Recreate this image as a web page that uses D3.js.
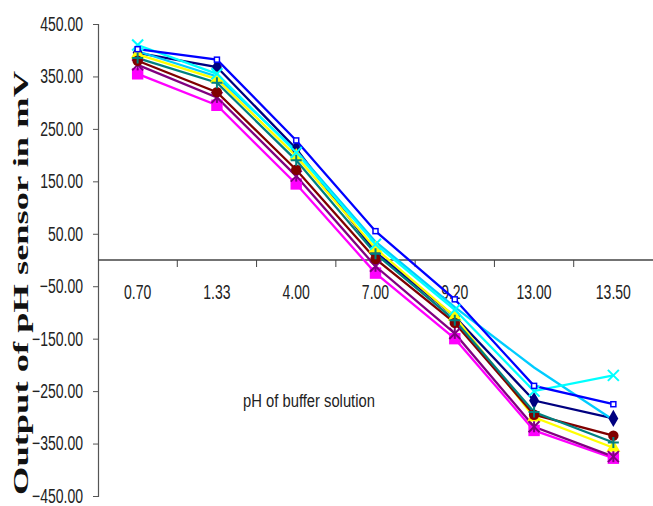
<!DOCTYPE html>
<html>
<head>
<meta charset="utf-8">
<script src="https://cdn.jsdelivr.net/npm/d3@7"></script>
<style>
  html, body { margin: 0; padding: 0; background: #fff; }
  svg { display: block; }
</style>
</head>
<body>
<div id="chart"></div>
<script>
// pH of buffer solution (categories)
const phLevels = ["0.70", "1.33", "4.00", "7.00", "9.20", "13.00", "13.50"];
const yTicks = [450, 350, 250, 150, 50, -50, -150, -250, -350, -450];

// sensor output in mV, one array per sensor
const navyVals    = [395, 368, 212, 15, -108, -268, -302];
const magentaVals = [355, 295, 145, -25, -150, -325, -378];
const yellowVals  = [392, 345, 198, 22, -108, -300, -358];
const cyanVals    = [410, 355, 205, 30, -95, -250, -220];
const purpleVals  = [372, 310, 160, -12, -140, -318, -375];
const maroonVals  = [380, 320, 172, 2, -120, -295, -335];
const tealVals    = [385, 338, 190, 12, -115, -290, -348];
const blueVals    = [402, 382, 228, 55, -75, -240, -275];
const skyVals     = [398, 350, 208, 35, -90, -205, -305];

const series = [
  { vals: navyVals, color: "#000080", sym: "diamond" },
  { vals: magentaVals, color: "#ff00ff", sym: "square" },
  { vals: yellowVals, color: "#ffff00", sym: "triangle" },
  { vals: skyVals, color: "#00ccff", sym: "none" },
  { vals: purpleVals, color: "#800080", sym: "star" },
  { vals: maroonVals, color: "#800000", sym: "circle" },
  { vals: tealVals, color: "#008080", sym: "plus" },
  { vals: cyanVals, color: "#00ffff", sym: "x" },
  { vals: blueVals, color: "#0000ff", sym: "box" },
];

const width = 653, height = 506;
const margin = { left: 98, right: 653, top: 24, bottom: 496 };

const svg = d3.select("#chart").append("svg")
  .attr("width", width).attr("height", height)
  .style("font-family", "'Liberation Sans', Arial, sans-serif");

const x = d3.scalePoint().domain(phLevels).range([margin.left, margin.right]).padding(0.5);
const xBand = d3.scaleBand().domain(phLevels).range([margin.left, margin.right]);
const y = d3.scaleLinear().domain([-450, 450]).range([margin.bottom, margin.top]);

// squeeze labels horizontally like the original
function condense(sel, k) {
  sel.each(function () {
    const w = this.getComputedTextLength();
    d3.select(this).attr("textLength", w * k).attr("lengthAdjust", "spacingAndGlyphs");
  });
}

// y axis
const yAxis = svg.append("g").attr("transform", `translate(${margin.left},0)`)
  .call(d3.axisLeft(y).tickValues(yTicks).tickFormat(d3.format(".2f")).tickSize(5).tickPadding(10));
yAxis.select(".domain").attr("stroke", "#555").attr("stroke-width", 1.2);
yAxis.selectAll(".tick line").attr("stroke", "#555");
yAxis.selectAll(".tick text")
  .attr("fill", "#222").style("font-size", "20px")
  .style("font-family", "'Liberation Sans', Arial, sans-serif")
  .call(condense, 0.7);

// x axis along zero
const xg = svg.append("g");
xg.append("line")
  .attr("x1", margin.left).attr("x2", margin.right)
  .attr("y1", y(0)).attr("y2", y(0))
  .attr("stroke", "#444").attr("stroke-width", 1.5);
xg.selectAll(".xtick").data(phLevels.slice(1)).join("line")
  .attr("x1", d => xBand(d)).attr("x2", d => xBand(d))
  .attr("y1", y(0)).attr("y2", y(0) + 7)
  .attr("stroke", "#444");
xg.selectAll(".xlab").data(phLevels).join("text")
  .attr("x", d => x(d)).attr("y", y(0) + 39)
  .attr("text-anchor", "middle")
  .attr("fill", "#222").style("font-size", "20px")
  .text(d => d)
  .call(condense, 0.7);

// axis titles
svg.append("text")
  .attr("x", 309).attr("y", 407)
  .attr("text-anchor", "middle")
  .attr("fill", "#222").style("font-size", "18px")
  .text("pH of buffer solution")
  .call(condense, 0.82);

svg.append("text")
  .attr("transform", "translate(28,283) rotate(-90)")
  .attr("text-anchor", "middle")
  .attr("fill", "#111")
  .style("font-family", "'Liberation Serif', 'Times New Roman', serif")
  .style("font-weight", "bold").style("font-size", "22px")
  .attr("textLength", 424).attr("lengthAdjust", "spacingAndGlyphs")
  .text("Output of pH sensor in mV");

// lines
const line = d3.line().x((d, i) => x(phLevels[i])).y(d => y(d));
const plot = svg.append("g");

series.forEach(s => {
  plot.append("path")
    .datum(s.vals)
    .attr("d", line)
    .attr("fill", "none")
    .attr("stroke", s.color)
    .attr("stroke-width", 2.3);
});

const symTypes = {
  diamond: d3.symbolDiamond,
  square: d3.symbolSquare,
  triangle: d3.symbolTriangle,
  circle: d3.symbolCircle,
};

series.forEach(s => {
  const g = plot.append("g");
  const pts = g.selectAll("g").data(s.vals).join("g")
    .attr("transform", (d, i) => `translate(${x(phLevels[i])},${y(d)})`);
  if (symTypes[s.sym]) {
    const size = s.sym === "square" ? 130 : 85;
    pts.append("path")
      .attr("d", d3.symbol().type(symTypes[s.sym]).size(size))
      .attr("fill", s.color);
  } else if (s.sym === "x" || s.sym === "star" || s.sym === "plus") {
    const r = 5.5;
    if (s.sym !== "plus") {
      pts.append("path").attr("d", `M${-r},${-r}L${r},${r}M${-r},${r}L${r},${-r}`)
        .attr("stroke", s.color).attr("stroke-width", 2);
    }
    if (s.sym !== "x") {
      pts.append("path").attr("d", `M0,${-r}L0,${r}` + (s.sym === "plus" ? `M${-r},0L${r},0` : ""))
        .attr("stroke", s.color).attr("stroke-width", 2);
    }
  } else if (s.sym === "box") {
    pts.append("rect").attr("x", -2.5).attr("y", -2.5).attr("width", 5).attr("height", 5)
      .attr("fill", "#fff").attr("stroke", s.color).attr("stroke-width", 1.5);
  }
});
</script>
</body>
</html>
